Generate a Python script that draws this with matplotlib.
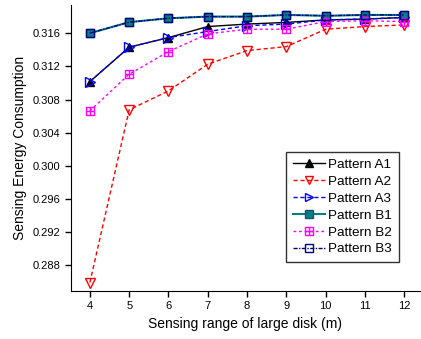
import matplotlib
matplotlib.use("Agg")
import matplotlib.pyplot as plt
from matplotlib.path import Path

plt.rcParams['font.family'] = ['Liberation Sans', 'DejaVu Sans']

ranges = [4, 5, 6, 7, 8, 9, 10, 11, 12]
a1 = [0.31016, 0.31431, 0.31547, 0.3168, 0.3171, 0.3173, 0.3176, 0.3177, 0.3179]
a2 = [0.28592, 0.30675, 0.30904, 0.31226, 0.3139, 0.31438, 0.31648, 0.3168, 0.3170]
a3 = [0.31016, 0.31431, 0.31547, 0.3162, 0.3169, 0.3171, 0.3176, 0.3177, 0.3179]
b1 = [0.3160, 0.31733, 0.3178, 0.3180, 0.3180, 0.3182, 0.3181, 0.3182, 0.3182]
b2 = [0.30663, 0.31105, 0.31378, 0.31592, 0.31648, 0.31648, 0.3174, 0.3175, 0.3174]
b3 = [0.3160, 0.31733, 0.3178, 0.3180, 0.3180, 0.3182, 0.3181, 0.3182, 0.3182]
yticks = [0.288, 0.292, 0.296, 0.300, 0.304, 0.308, 0.312, 0.316]

# square with a cross inside, for pattern B2
sq_plus = Path(
    [(-1, -1), (1, -1), (1, 1), (-1, 1), (-1, -1), (-1, 0), (1, 0), (0, -1), (0, 1)],
    [Path.MOVETO, Path.LINETO, Path.LINETO, Path.LINETO, Path.CLOSEPOLY,
     Path.MOVETO, Path.LINETO, Path.MOVETO, Path.LINETO],
)

fig = plt.figure(figsize=(4.21, 3.39), dpi=100)
ax = fig.add_axes([71 / 421, 1 - 291 / 339, 349 / 421, 286 / 339])

ax.plot(ranges, a1, color="black", lw=1, marker="^", ms=6, mfc="black", mec="black", label="Pattern A1")
ax.plot(ranges, a2, color="red", lw=1, ls=(0, (3, 2)), marker="v", ms=7, mfc="none", mec="red", label="Pattern A2")
ax.plot(ranges, a3, color="blue", lw=1, ls=(0, (3, 2)), marker=">", ms=7, mfc="none", mec="blue", label="Pattern A3")
ax.plot(ranges, b1, color="#008080", lw=1.5, marker="s", ms=6, mfc="#008080", mec="#1f4e79", label="Pattern B1")
ax.plot(ranges, b2, color="magenta", lw=1, ls=(0, (2, 2)), marker=sq_plus, ms=6, mfc="none", mec="magenta", label="Pattern B2")
ax.plot(ranges, b3, color="navy", lw=1, ls=(0, (3, 1, 1, 1)), marker="s", ms=6, mfc="none", mec="navy", label="Pattern B3")

ax.set_xlim(3.52, 12.4)
ax.set_ylim(0.2849, 0.3194)
ax.set_xticks(ranges)
ax.set_yticks(yticks)
ax.set_yticklabels([f"{v:.3f}" for v in yticks])
ax.tick_params(labelsize=8, direction="out", length=4, width=1, colors="black")
for side in ["top", "right"]:
    ax.spines[side].set_visible(False)

ax.set_xlabel("Sensing range of large disk (m)", fontsize=10)
ax.set_ylabel("Sensing Energy Consumption", fontsize=10)

leg = ax.legend(loc="lower right", bbox_to_anchor=(0.94, 0.101), borderaxespad=0,
                fontsize=9.7, frameon=True, fancybox=False, edgecolor="black",
                handlelength=2.4, borderpad=0.5, labelspacing=0.33,
                handletextpad=0.25, markerscale=0.85)
leg.get_frame().set_linewidth(1)

fig.savefig("out.png", dpi=100)
